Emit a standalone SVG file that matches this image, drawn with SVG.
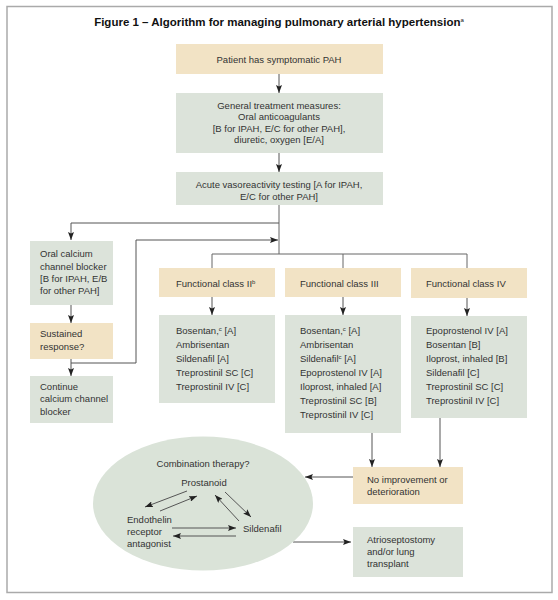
<svg xmlns="http://www.w3.org/2000/svg" width="558" height="600" viewBox="0 0 558 600">
<defs>
<marker id="ah" viewBox="0 0 8 6" refX="8" refY="3" markerWidth="8" markerHeight="6" markerUnits="userSpaceOnUse" orient="auto">
<path d="M0,0 L8,3 L0,6 L1.5,3 Z" fill="#222"/>
</marker>
<style>
.t{font-family:"Liberation Sans",Arial,sans-serif;font-size:9.5px;fill:#333}
.c{text-anchor:middle}
.tan{fill:#f2e3c5}
.grn{fill:#dce3da}
.ln{fill:none;stroke:#666;stroke-width:1}
.ar{fill:none;stroke:#555;stroke-width:1;marker-end:url(#ah)}
.sup{font-size:6px}
</style>
</defs>
<rect width="558" height="600" fill="#fff"/>
<rect x="7" y="6.5" width="545" height="586" fill="none" stroke="#aaa" stroke-width="1.5"/>
<text x="279" y="26" text-anchor="middle" style="font-family:'Liberation Sans',Arial,sans-serif;font-size:11.5px;font-weight:bold;fill:#111">Figure 1 – Algorithm for managing pulmonary arterial hypertension<tspan class="sup" dy="-4" style="font-weight:normal">a</tspan></text>

<g id="connectors">
<path class="ar" d="M279,74 V93"/>
<path class="ar" d="M279,153 V172"/>
<path class="ln" d="M279,205 V254"/>
<path class="ar" d="M279,223 H71 V240"/>
<path class="ar" d="M71,305 V323"/>
<path class="ar" d="M71,359 V376"/>
<path class="ar" d="M71,363 H136 V240 H278"/>
<path class="ln" d="M212,268 V254 H467 V268"/>
<path class="ln" d="M343,254 V268"/>
<path class="ar" d="M212,297 V315"/>
<path class="ar" d="M343,297 V315"/>
<path class="ar" d="M467,298 V316"/>
<path class="ar" d="M372,433 V467"/>
<path class="ar" d="M440,418 V467"/>
<path class="ar" d="M353,477 H305"/>
<path class="ar" d="M293,542 H351"/>
</g>

<g id="n1"><rect class="tan" x="176" y="44" width="207" height="30"/><text class="t c" x="279" y="62.5">Patient has symptomatic PAH</text></g>
<g id="n2"><rect class="grn" x="176" y="93" width="207" height="60"/>
<text class="t c" x="279" y="108.5">General treatment measures:</text>
<text class="t c" x="279" y="120">Oral anticoagulants</text>
<text class="t c" x="279" y="131.5">[B for IPAH, E/C for other PAH],</text>
<text class="t c" x="279" y="143">diuretic, oxygen [E/A]</text></g>
<g id="n3"><rect class="grn" x="176" y="172" width="207" height="33"/>
<text class="t c" x="279" y="187.5">Acute vasoreactivity testing [A for IPAH,</text>
<text class="t c" x="279" y="199.5">E/C for other PAH]</text></g>

<g id="n4"><rect class="grn" x="30" y="241" width="83" height="64"/>
<text class="t" x="40" y="257">Oral calcium</text>
<text class="t" x="40" y="269.5">channel blocker</text>
<text class="t" x="40" y="282">[B for IPAH, E/B</text>
<text class="t" x="40" y="294">for other PAH]</text></g>
<g id="n5"><rect class="tan" x="30" y="323" width="83" height="36"/>
<text class="t" x="40" y="337">Sustained</text>
<text class="t" x="40" y="350">response?</text></g>
<g id="n6"><rect class="grn" x="30" y="376" width="83" height="47"/>
<text class="t" x="40" y="389.5">Continue</text>
<text class="t" x="40" y="402">calcium channel</text>
<text class="t" x="40" y="414.5">blocker</text></g>

<g id="n7"><rect class="tan" x="159" y="268" width="116" height="29"/>
<text class="t" x="176" y="286.5">Functional class II<tspan class="sup" dy="-3">b</tspan></text></g>
<g id="n8"><rect class="tan" x="285" y="268" width="116" height="29"/>
<text class="t" x="300" y="286.5">Functional class III</text></g>
<g id="n9"><rect class="tan" x="411" y="268" width="116" height="30"/>
<text class="t" x="426" y="286.5">Functional class IV</text></g>

<g id="n10"><rect class="grn" x="159" y="315" width="116" height="88"/>
<text class="t" x="176" y="333.5">Bosentan,<tspan class="sup" dy="-3">c</tspan><tspan dy="3"> [A]</tspan></text>
<text class="t" x="176" y="347.5">Ambrisentan</text>
<text class="t" x="176" y="361.5">Sildenafil [A]</text>
<text class="t" x="176" y="375.5">Treprostinil SC [C]</text>
<text class="t" x="176" y="389.5">Treprostinil IV [C]</text></g>
<g id="n11"><rect class="grn" x="285" y="315" width="116" height="118"/>
<text class="t" x="300" y="333.5">Bosentan,<tspan class="sup" dy="-3">c</tspan><tspan dy="3"> [A]</tspan></text>
<text class="t" x="300" y="347.5">Ambrisentan</text>
<text class="t" x="300" y="361.5">Sildenafil<tspan class="sup" dy="-3">c</tspan><tspan dy="3"> [A]</tspan></text>
<text class="t" x="300" y="375.5">Epoprostenol IV [A]</text>
<text class="t" x="300" y="389.5">Iloprost, inhaled [A]</text>
<text class="t" x="300" y="403.5">Treprostinil SC [B]</text>
<text class="t" x="300" y="417.5">Treprostinil IV [C]</text></g>
<g id="n12"><rect class="grn" x="411" y="316" width="116" height="102"/>
<text class="t" x="426" y="333.5">Epoprostenol IV [A]</text>
<text class="t" x="426" y="347.5">Bosentan [B]</text>
<text class="t" x="426" y="361.5">Iloprost, inhaled [B]</text>
<text class="t" x="426" y="375.5">Sildenafil [C]</text>
<text class="t" x="426" y="389.5">Treprostinil SC [C]</text>
<text class="t" x="426" y="403.5">Treprostinil IV [C]</text></g>

<g id="n13"><rect class="tan" x="353" y="467" width="110" height="37"/>
<text class="t" x="367" y="482.5">No improvement or</text>
<text class="t" x="367" y="494.5">deterioration</text></g>
<g id="n14"><rect class="grn" x="353" y="527" width="110" height="50"/>
<text class="t" x="367" y="542.5">Atrioseptostomy</text>
<text class="t" x="367" y="554.5">and/or lung</text>
<text class="t" x="367" y="566.5">transplant</text></g>

<g id="n15"><ellipse cx="203" cy="503.5" rx="110" ry="67" fill="#dae3d8"/>
<text class="t c" x="203" y="466.5">Combination therapy?</text>
<text class="t c" x="204" y="485.5">Prostanoid</text>
<text class="t" x="127" y="522.5">Endothelin</text>
<text class="t" x="127" y="535">receptor</text>
<text class="t" x="127" y="547">antagonist</text>
<text class="t" x="243" y="531.5">Sildenafil</text>
<path class="ar" d="M187,491 L145,507"/>
<path class="ar" d="M160,511 L197,496"/>
<path class="ar" d="M225,492 L251,517"/>
<path class="ar" d="M239,521 L215,495"/>
<path class="ar" d="M172,528 L236,528"/>
<path class="ar" d="M236,536 L173,536"/>
</g>
</svg>
